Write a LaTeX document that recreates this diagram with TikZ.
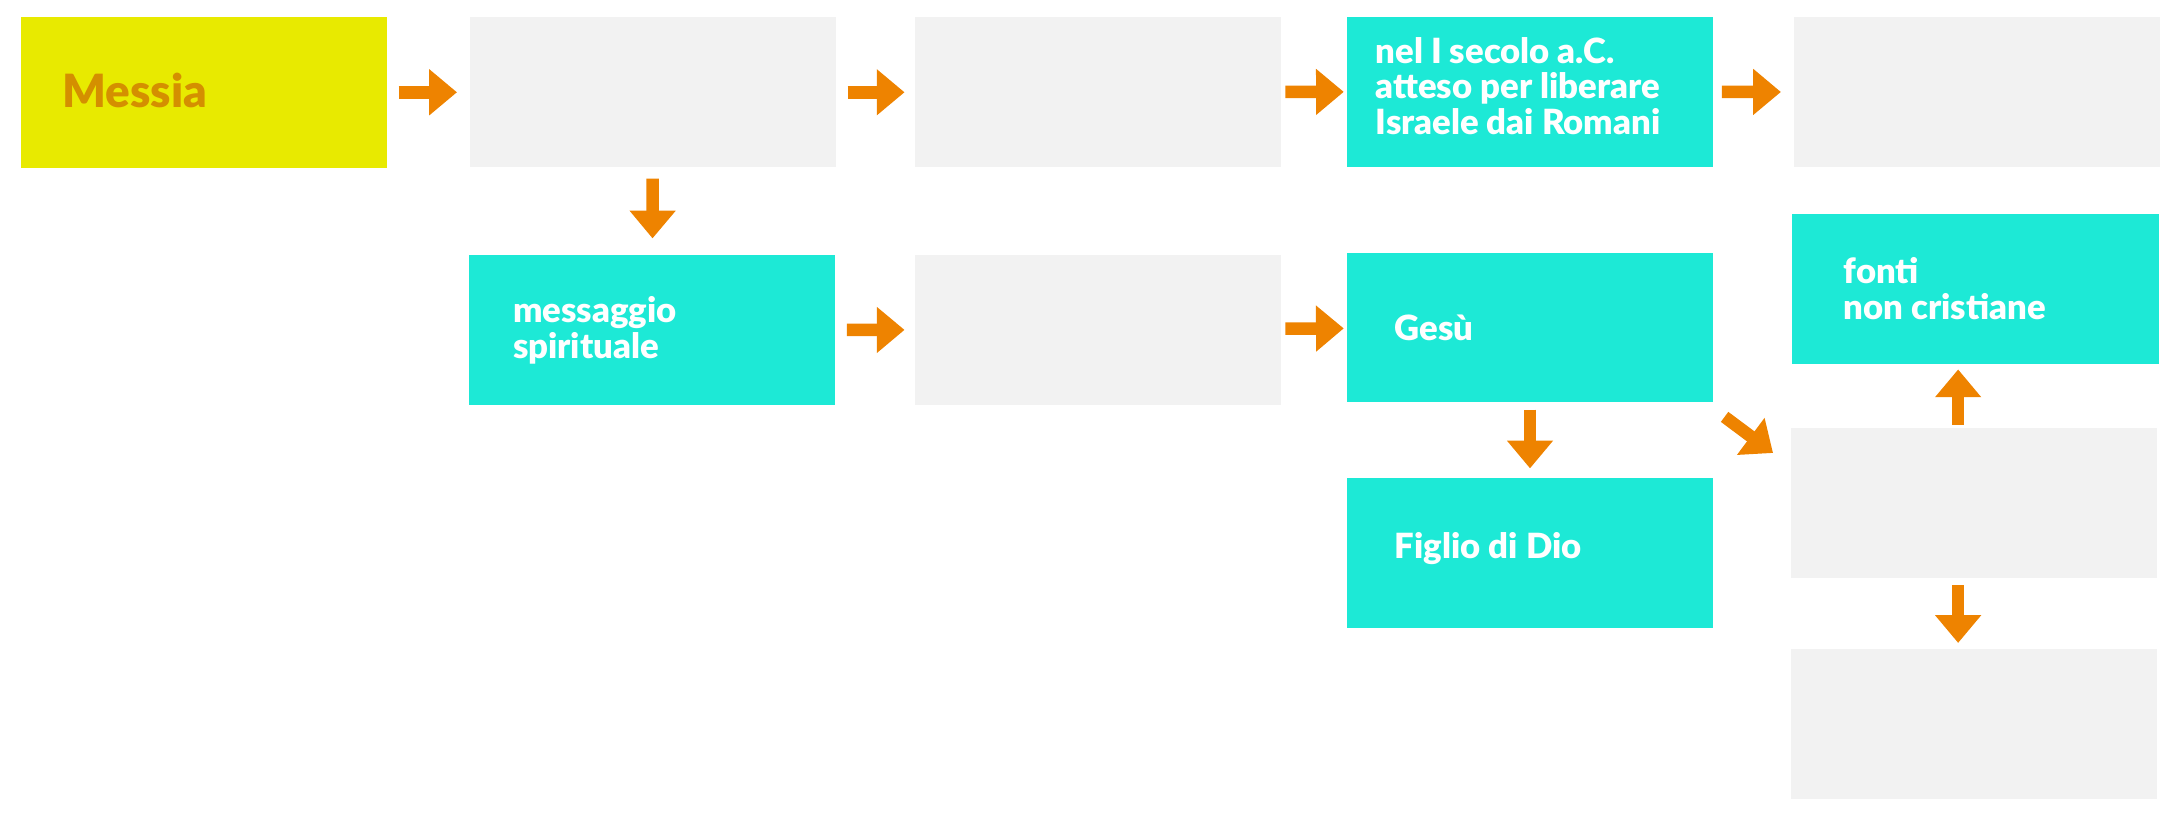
\documentclass[tikz,border=0pt]{standalone}
\usepackage{fontspec}
\setmainfont{Lato}[BoldFont={Lato Black}]
\usetikzlibrary{arrows.meta}
\definecolor{messiabg}{HTML}{E8EA00}
\definecolor{messiatxt}{HTML}{D48F00}
\definecolor{tealbg}{HTML}{1DE9D6}
\definecolor{greybg}{HTML}{F2F2F2}
\definecolor{arrowc}{HTML}{EE8300}
\begin{document}
\begin{tikzpicture}[x=1pt,y=-1pt,
  box/.style={minimum width=264pt,minimum height=108pt,inner sep=0pt},
  grey/.style={box,fill=greybg},
  tealbox/.style={box,fill=tealbg},
  link/.style={draw=arrowc,line width=9pt,-{Triangle[length=20pt,width=32pt]}},
  lbl/.style={anchor=west,inner sep=0pt,text=white,align=left,font=\bfseries\fontsize{25}{25.6}\selectfont}]
\useasboundingbox (0,0) rectangle (1568,596);
\node[box,fill=messiabg,minimum height=109pt] (messia) at (147,66.5) {};
\node[grey] (a) at (470.5,66.5) {};
\node[grey] (b) at (791,66.5) {};
\node[tealbox] (secolo) at (1102.5,66) {};
\node[grey] (d) at (1424.5,66.5) {};
\node[tealbox] (messaggio) at (470,238) {};
\node[grey] (f) at (791,237.5) {};
\node[tealbox] (gesu) at (1102.5,236) {};
\node[tealbox] (figlio) at (1102.5,398.7) {};
\node[tealbox] (fonti) at (1423.5,208) {};
\node[grey] (j) at (1422.5,362.5) {};
\node[grey] (k) at (1422.5,521.5) {};
\node[lbl,text=messiatxt,font=\bfseries\fontsize{33}{36}\selectfont] (tmessia) at ([xshift=30pt,yshift=1pt]messia.west) {Messia};
\node[lbl] (tsecolo) at ([xshift=20.7pt,yshift=4pt]secolo.west) {nel I secolo a.C.\\atteso per liberare\\Israele dai Romani};
\node[lbl] (tmessaggio) at ([xshift=31.7pt]messaggio.west) {messaggio\\spirituale};
\node[lbl] (tgesu) at ([xshift=34.6pt]gesu.west) {Gesù};
\node[lbl] (tfiglio) at ([xshift=34.6pt,yshift=3.4pt]figlio.west) {Figlio di Dio};
\node[lbl] (tfonti) at ([xshift=37pt]fonti.west) {fonti\\non cristiane};
\draw[link,shorten <=8pt,shorten >=9pt] (messia) -- (a);
\draw[link,shorten <=8pt,shorten >=7pt] (a) -- (b);
\draw[link,shorten <=3pt,shorten >=2pt] (b) -- (secolo);
\draw[link,shorten <=6pt,shorten >=9pt] (secolo) -- (d);
\draw[link,shorten <=8pt,shorten >=12pt] (a) -- (messaggio);
\draw[link,shorten <=8pt,shorten >=7pt] (messaggio) -- (f);
\draw[link,shorten <=3pt,shorten >=2pt] (f) -- (gesu);
\draw[link,shorten <=5pt,shorten >=7pt] (gesu) -- (figlio);
\draw[link] ([xshift=8pt,yshift=-10.2pt]gesu.south east) -- ([xshift=-12.7pt,yshift=-18.1pt]j.north west);
\draw[link,shorten <=2pt,shorten >=4pt] ([xshift=-11.5pt]j.north) -- ([xshift=-12.5pt]fonti.south);
\draw[link,shorten <=5pt,shorten >=4pt] ([xshift=-11.5pt]j.south) -- ([xshift=-11.5pt]k.north);
\end{tikzpicture}
\end{document}
